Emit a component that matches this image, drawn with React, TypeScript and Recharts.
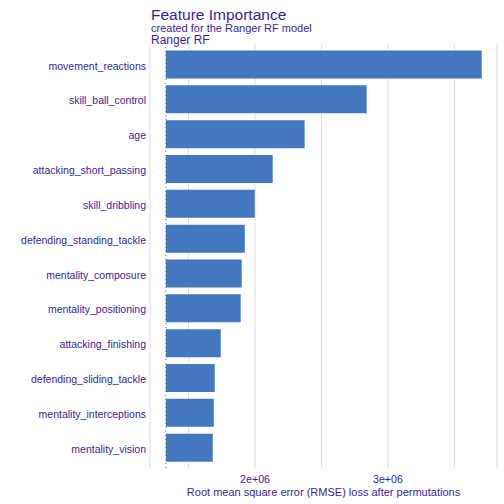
import { BarChart, Bar, XAxis, YAxis, CartesianGrid, ReferenceLine } from 'recharts';

const features = [
  'movement_reactions',
  'skill_ball_control',
  'age',
  'attacking_short_passing',
  'skill_dribbling',
  'defending_standing_tackle',
  'mentality_composure',
  'mentality_positioning',
  'attacking_finishing',
  'defending_sliding_tackle',
  'mentality_interceptions',
  'mentality_vision',
];

// dropout loss after permuting each variable
const dropoutLoss = [
  3705000, 2840000, 2373000, 2133000, 1998000, 1923000, 1900000, 1892000, 1742000,
  1697000, 1690000, 1682000,
];

// loss of the full model (dotted line, where bars start)
const fullModelLoss = 1329000;

const xTicks = [1500000, 2000000, 2500000, 3000000, 3500000];
const xDomain = [1210000, 3820000];

const TEXT = '#371ea3';
const BAR = '#4378bf';
const FONT = "'Liberation Sans', Arial, sans-serif";

const data = features.map((name, i) => ({
  name,
  loss: [fullModelLoss, dropoutLoss[i]],
}));

const fmtTick = (v: number) => (v % 1000000 === 0 ? `${v / 1000000}e+06` : '');

export default function App() {
  return (
    <div
      style={{
        position: 'absolute',
        left: 0,
        top: 0,
        width: 504,
        height: 504,
        background: '#fff',
        fontFamily: FONT,
      }}
    >
      <BarChart
        width={504}
        height={504}
        data={data}
        layout="vertical"
        margin={{ top: 44, right: 7, bottom: 0, left: 0 }}
        barCategoryGap="10%"
      >
        <CartesianGrid horizontal={false} stroke="#dedede" strokeWidth={1} />
        <XAxis
          type="number"
          domain={xDomain}
          ticks={xTicks}
          tickFormatter={fmtTick}
          axisLine={false}
          tickLine={false}
          tickSize={0}
          tickMargin={7}
          height={36}
          allowDataOverflow
          tick={{ fill: TEXT, fontSize: 10.7, fontFamily: FONT }}
          label={{
            value: 'Root mean square error (RMSE) loss after permutations',
            position: 'insideBottom',
            offset: 8,
            fill: TEXT,
            fontSize: 11,
            fontFamily: FONT,
          }}
        />
        <YAxis
          type="category"
          dataKey="name"
          width={150}
          axisLine={false}
          tickLine={false}
          tickSize={0}
          tickMargin={4}
          padding={{ top: 3, bottom: 3 }}
          interval={0}
          tick={{ fill: TEXT, fontSize: 10.5, fontFamily: FONT, dy: 1.5 }}
        />
        <ReferenceLine x={fullModelLoss} stroke={BAR} strokeDasharray="1 3" strokeWidth={1} />
        <Bar dataKey="loss" fill={BAR} isAnimationActive={false} />
      </BarChart>
      <svg
        width={504}
        height={50}
        style={{ position: 'absolute', left: 0, top: 0, pointerEvents: 'none' }}
      >
        <text x={151} y={20} fill={TEXT} fontSize={15.5} fontFamily={FONT}>
          Feature Importance
        </text>
        <text x={151} y={31.5} fill={TEXT} fontSize={11} fontFamily={FONT}>
          created for the Ranger RF model
        </text>
        <text x={151} y={43.5} fill={TEXT} fontSize={12} fontFamily={FONT}>
          Ranger RF
        </text>
      </svg>
    </div>
  );
}
